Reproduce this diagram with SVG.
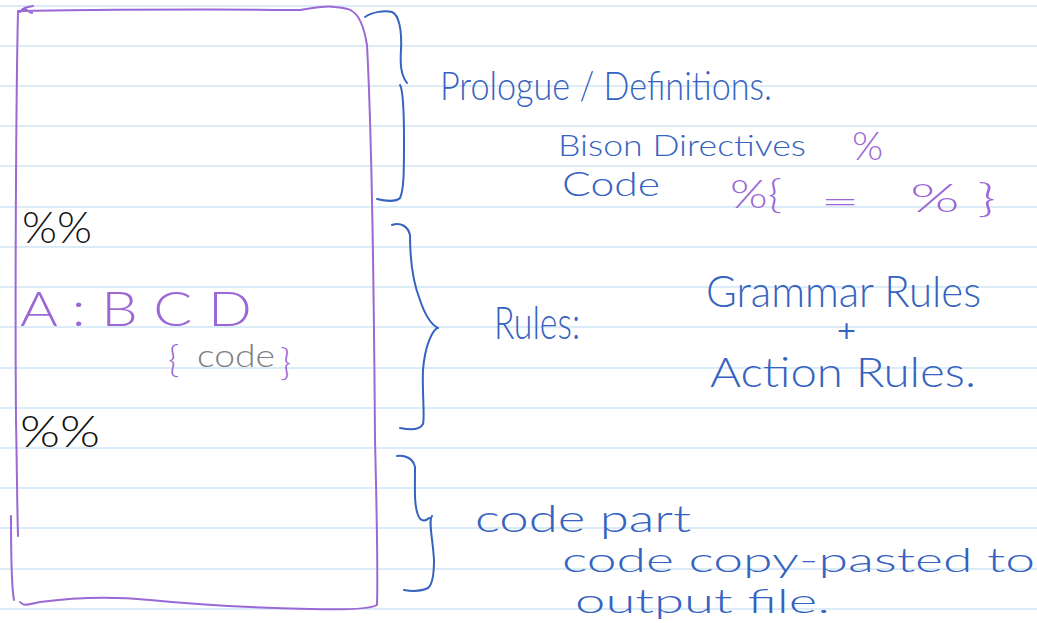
<svg xmlns="http://www.w3.org/2000/svg" width="1037" height="623" viewBox="0 0 1037 623">
<style>
.rule{stroke:#cfe6f6;stroke-width:1.6}
.pen{fill:none;stroke-linecap:round;stroke-linejoin:round}
.blue{stroke:#3563bf;stroke-width:2}
.purple{stroke:#9b68d6;stroke-width:2}
.t{font-family:Lato,Roboto,"Liberation Sans",sans-serif;font-weight:300}
.tb{fill:#3563bf}
.tp{fill:#9b68d6}
.tk{fill:#111111}
.tg{fill:#7f7f7f}
</style>
<rect width="1037" height="623" fill="#ffffff"/>
<g id="paper-lines">
<line class="rule" x1="0" y1="6" x2="1037" y2="6"/>
<line class="rule" x1="0" y1="46" x2="1037" y2="46"/>
<line class="rule" x1="0" y1="86" x2="1037" y2="86"/>
<line class="rule" x1="0" y1="126" x2="1037" y2="126"/>
<line class="rule" x1="0" y1="166" x2="1037" y2="166"/>
<line class="rule" x1="0" y1="207" x2="1037" y2="207"/>
<line class="rule" x1="0" y1="247" x2="1037" y2="247"/>
<line class="rule" x1="0" y1="287" x2="1037" y2="287"/>
<line class="rule" x1="0" y1="327" x2="1037" y2="327"/>
<line class="rule" x1="0" y1="368" x2="1037" y2="368"/>
<line class="rule" x1="0" y1="408" x2="1037" y2="408"/>
<line class="rule" x1="0" y1="448" x2="1037" y2="448"/>
<line class="rule" x1="0" y1="488" x2="1037" y2="488"/>
<line class="rule" x1="0" y1="528" x2="1037" y2="528"/>
<line class="rule" x1="0" y1="569" x2="1037" y2="569"/>
<line class="rule" x1="0" y1="609" x2="1037" y2="609"/>
</g>
<g id="file-box">
<path class="pen purple" d="M33 6 C26 7 22 8 20 12 M24 9 C28 11 30 12 32 13 M19 11 C90 10 200 9 300 10 C315 8 325 5 335 7 C345 8 350 9 352 11 C359 15 364 27 367 45 C371 120 374 300 375 440 C377 520 378 570 377 605 C370 609 345 610 310 609 C260 608 200 605 150 600 C110 596 70 598 40 602 C30 604 24 607 20 602 M18 11 C16 100 15 300 16 420 C17 470 17 500 18 536 M11 516 C11 560 12 590 14 600"/>
</g>
<g id="section-braces">
<path class="pen blue" d="M365 17 C372 12 385 10 392 12 C399 15 402 30 401 50 C400 65 401 75 407 83 M400 85 C403 90 404 110 404 140 C404 170 404 190 400 198 C396 202 385 201 377 199"/>
<path class="pen blue" d="M392 225 C400 222 408 226 410 235 C410 260 412 280 420 300 C425 315 432 325 438 328 M437 328 C432 332 425 345 423 370 C422 395 425 415 423 424 C420 430 410 430 400 428"/>
<path class="pen blue" d="M397 456 C405 455 413 458 415 467 C415 490 414 505 418 515 C420 521 425 522 429 518 M432 516 C428 520 433 540 434 560 C434 578 432 585 428 588 C420 592 410 591 404 590"/>
</g>
<g id="prologue-label">
<text class="t tb" x="440" y="100" font-size="40" textLength="332" lengthAdjust="spacingAndGlyphs">Prologue / Definitions.</text>
<text class="t tb" x="558" y="156" font-size="29" textLength="248" lengthAdjust="spacingAndGlyphs">Bison Directives</text>
<text class="t tp" x="852" y="160" font-size="40">%</text>
<text class="t tb" x="562" y="196" font-size="33" textLength="98" lengthAdjust="spacingAndGlyphs">Code</text>
<text class="t tp" x="730" y="208" font-size="40" textLength="52" lengthAdjust="spacingAndGlyphs">%{</text>
<text class="t tp" x="820" y="212" font-size="30" textLength="40" lengthAdjust="spacingAndGlyphs">=</text>
<text class="t tp" x="910" y="212" font-size="40" textLength="86" lengthAdjust="spacingAndGlyphs">% }</text>
</g>
<g id="rules-label">
<text class="t tb" x="494" y="339" font-size="46" textLength="86" lengthAdjust="spacingAndGlyphs">Rules:</text>
<text class="t tb" x="706" y="307" font-size="44" textLength="275" lengthAdjust="spacingAndGlyphs">Grammar Rules</text>
<text x="836" y="339" font-size="25" fill="#3563bf" font-family="'DejaVu Sans',sans-serif">+</text>
<text class="t tb" x="710" y="387" font-size="42" textLength="266" lengthAdjust="spacingAndGlyphs">Action Rules.</text>
</g>
<g id="code-label">
<text class="t tb" x="475" y="532" font-size="38" textLength="216" lengthAdjust="spacingAndGlyphs">code part</text>
<text class="t tb" x="562" y="572" font-size="34" textLength="473" lengthAdjust="spacingAndGlyphs">code copy-pasted to</text>
<text class="t tb" x="575" y="613" font-size="34" textLength="255" lengthAdjust="spacingAndGlyphs">output file.</text>
</g>
<g id="grammar-content">
<text class="t tk" x="22" y="243" font-size="44" textLength="70" lengthAdjust="spacingAndGlyphs">%%</text>
<text class="t tp" x="20" y="326" font-size="48" textLength="232" lengthAdjust="spacingAndGlyphs">A : B C D</text>
<text class="t tp" x="168" y="372" font-size="38">{</text>
<text class="t tg" x="197" y="367" font-size="32" textLength="78" lengthAdjust="spacingAndGlyphs">code</text>
<text class="t tp" x="280" y="375" font-size="38">}</text>
<text class="t tk" x="20" y="447" font-size="44" textLength="80" lengthAdjust="spacingAndGlyphs">%%</text>
</g>
</svg>
